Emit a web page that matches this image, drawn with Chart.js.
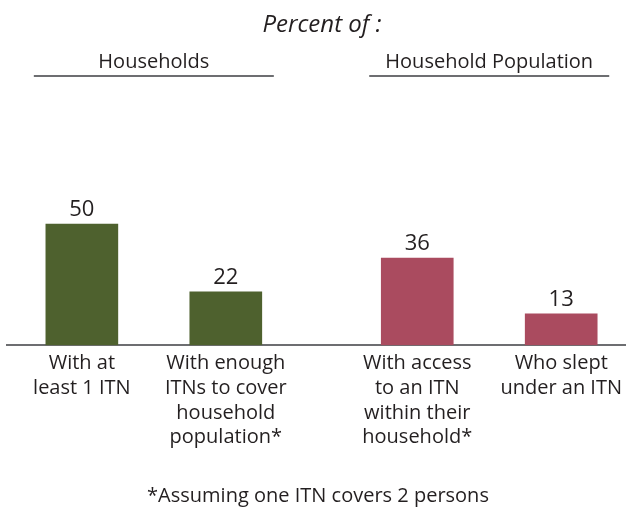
<!DOCTYPE html>
<html lang="en">
<head>
  <meta charset="UTF-8">
  <title>ITN ownership and use</title>
  <script src="https://cdn.jsdelivr.net/npm/chart.js"></script>
  <style>
    html, body {
      margin: 0;
      padding: 0;
      background: #fff;
    }

    #chartContainer {
      width: 628px;
      height: 509px;
    }
  </style>
</head>
<body>

  <div id="chartContainer">
    <canvas id="itnChart"></canvas>
  </div>

  <script>
    // data
    const categories = [
      ['With at', 'least 1 ITN'],
      ['With enough', 'ITNs to cover', 'household', 'population*'],
      ['With access', 'to an ITN', 'within their', 'household*'],
      ['Who slept', 'under an ITN']
    ];
    const values = [50, 22, 36, 13];
    const barGroup = [0, 0, 1, 1];
    const groupTitles = ['Households', 'Household Population'];
    const chartTitle = 'Percent of :';
    const footnote = '*Assuming one ITN covers 2 persons';

    const groupColors = ['#4e612e', '#aa4b5f'];
    const textColor = '#231f20';
    const lineColor = '#6d6e71';
    const FONT = "'Open Sans', sans-serif";
    const GROUP_GAP = 0.33; // extra space between the two groups, in bar slots

    const slotOf = i => i + barGroup[i] * GROUP_GAP;

    // headings, underlines, footnote and value labels
    const decorations = {
      id: 'decorations',
      afterDraw(chart) {
        const ctx = chart.ctx;
        const x = chart.scales.x;
        ctx.save();
        ctx.fillStyle = textColor;
        ctx.textAlign = 'center';
        ctx.textBaseline = 'alphabetic';

        ctx.font = `italic 24px ${FONT}`;
        ctx.fillText(chartTitle, 322, 32);

        groupTitles.forEach((title, g) => {
          const idx = barGroup.map((b, i) => b === g ? i : -1).filter(i => i >= 0);
          const left = x.getPixelForValue(slotOf(idx[0]));
          const right = x.getPixelForValue(slotOf(idx[idx.length - 1]));
          const mid = (left + right) / 2;
          ctx.font = `20px ${FONT}`;
          ctx.fillText(title, mid, 68);
          ctx.strokeStyle = lineColor;
          ctx.lineWidth = 2;
          ctx.beginPath();
          ctx.moveTo(mid - 120, 76);
          ctx.lineTo(mid + 120, 76);
          ctx.stroke();
        });

        ctx.font = `20px ${FONT}`;
        ctx.fillText(footnote, 318, 502);

        ctx.font = `22px ${FONT}`;
        ctx.textBaseline = 'middle';
        chart.getDatasetMeta(0).data.forEach((bar, i) => {
          ctx.fillText(String(values[i]), bar.x, bar.y - 14);
        });
        ctx.restore();
      }
    };

    const ctx = document.getElementById('itnChart').getContext('2d');

    const chart = new Chart(ctx, {
      type: 'bar',
      data: {
        datasets: [{
          data: values.map((v, i) => ({ x: slotOf(i), y: v })),
          backgroundColor: barGroup.map(g => groupColors[g]),
          barThickness: 72,
          borderWidth: 0
        }]
      },
      options: {
        responsive: true,
        maintainAspectRatio: false,
        animation: false,
        layout: {
          padding: { top: 103, bottom: 53, left: 7, right: 0 }
        },
        plugins: {
          legend: { display: false },
          tooltip: { enabled: false }
        },
        scales: {
          x: {
            type: 'linear',
            offset: false,
            min: -0.52,
            max: 3.78,
            z: 1,
            grid: { display: false, drawTicks: false, offset: false },
            border: { display: true, color: lineColor, width: 2 },
            afterBuildTicks: axis => {
              axis.ticks = values.map((v, i) => ({ value: slotOf(i) }));
            },
            ticks: {
              autoSkip: false,
              maxRotation: 0,
              padding: 6,
              color: textColor,
              font: { family: FONT, size: 20, lineHeight: 1.235 },
              callback: (value, index) => categories[index]
            }
          },
          y: {
            display: false,
            min: 0,
            max: 100
          }
        }
      },
      plugins: [decorations]
    });
  </script>

</body>
</html>
